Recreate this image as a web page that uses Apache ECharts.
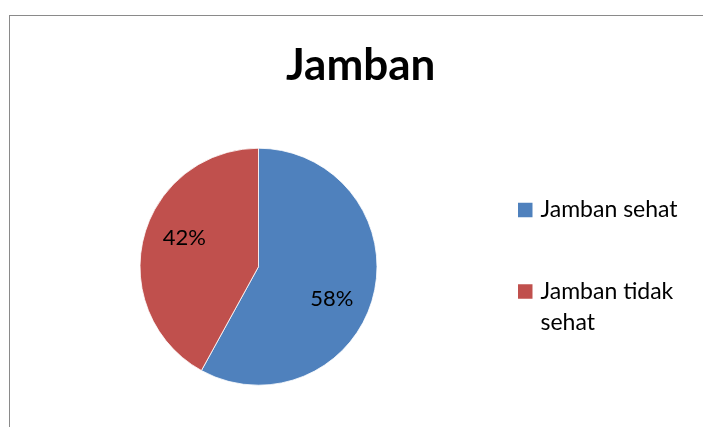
<!DOCTYPE html>
<html>
<head>
<meta charset="utf-8">
<script src="https://cdn.jsdelivr.net/npm/echarts@6/dist/echarts.min.js"></script>
<style>
  html, body { margin: 0; padding: 0; background: #fff; }
  #frame { position: absolute; left: 9px; top: 15px; width: 800px; height: 500px; border: 1.5px solid #8a8a8a; box-sizing: border-box; }
  #chart { position: absolute; left: 0; top: 0; width: 703px; height: 427px; }
</style>
</head>
<body>
<div id="frame"></div>
<div id="chart"></div>
<script>
const titleText = 'Jamban';
const categories = ['Jamban sehat', 'Jamban tidak sehat'];
const values = [58, 42];
const colors = ['#4F81BD', '#C0504D'];

const FONT = 'Lato';
const chart = echarts.init(document.getElementById('chart'), null, { renderer: 'canvas' });

const labelShift = [[13, 17], [-14, -13]];

chart.setOption({
  backgroundColor: 'transparent',
  animation: false,
  title: {
    text: titleText,
    left: 281,
    top: 39,
    textStyle: { fontFamily: FONT, fontWeight: 'bold', fontSize: 44, color: '#000' }
  },
  legend: {
    orient: 'vertical',
    left: 518,
    top: 194.5,
    padding: 0,
    itemWidth: 14.5,
    itemHeight: 14.5,
    itemGap: 19.5,
    icon: 'rect',
    itemStyle: { borderWidth: 0 },
    formatter: function (name) { return name === categories[1] ? '\n' + name : name; },
    textStyle: { fontFamily: FONT, fontSize: 23, color: '#000', lineHeight: 31, padding: [0, 0, 0, 3] },
    data: [
      { name: categories[0] },
      { name: categories[1], textStyle: { width: 155, overflow: 'break' } }
    ]
  },
  series: [{
    type: 'pie',
    center: [258.5, 266.7],
    radius: 118.5,
    startAngle: 90,
    clockwise: true,
    silent: true,
    data: categories.map((c, i) => ({ name: c, value: values[i], itemStyle: { color: colors[i] } })),
    itemStyle: { borderColor: '#fff', borderWidth: 0.8 },
    label: {
      show: true,
      position: 'inside',
      formatter: '{d}%',
      fontFamily: FONT,
      fontSize: 22,
      color: '#000'
    },
    labelLine: { show: false },
    labelLayout: function (p) {
      return { dx: labelShift[p.dataIndex][0], dy: labelShift[p.dataIndex][1] };
    }
  }]
});
</script>
</body>
</html>
